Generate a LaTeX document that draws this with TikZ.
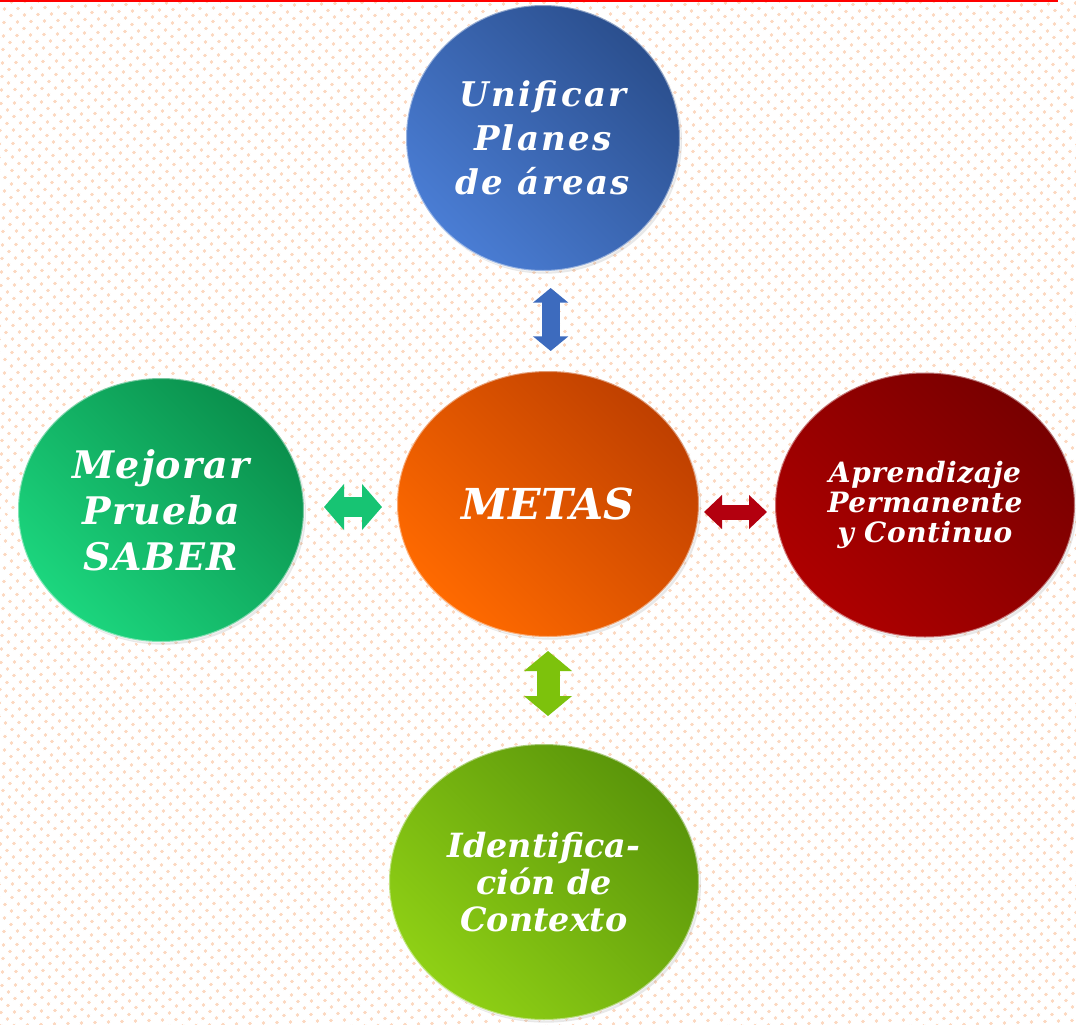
\documentclass[tikz,border=0pt]{standalone}
\usepackage{fontspec}
\setmainfont{DejaVu Serif}
\usetikzlibrary{shapes.geometric,arrows.meta,shadows,patterns.meta}
\definecolor{blueD}{HTML}{2B4F8E}\definecolor{blueL}{HTML}{4A7DD4}
\definecolor{orangeD}{HTML}{BF4000}\definecolor{orangeL}{HTML}{FF6A00}
\definecolor{greenD}{HTML}{0A8F4C}\definecolor{greenL}{HTML}{1CD67E}
\definecolor{redD}{HTML}{780000}\definecolor{redL}{HTML}{AE0000}
\definecolor{limeD}{HTML}{5A950A}\definecolor{limeL}{HTML}{8FD015}
\definecolor{arrBlue}{HTML}{3D6BBE}\definecolor{arrGreen}{HTML}{17C473}
\definecolor{arrRed}{HTML}{B3000F}\definecolor{arrLime}{HTML}{7DC20C}
\definecolor{dotc}{HTML}{FCD8C0}
\tikzset{
  ball/.style n args={4}{ellipse, inner sep=0pt, minimum width=#1, minimum height=#2,
    top color=#3, bottom color=#4, shading angle=-45,
    draw=white, draw opacity=0.45, line width=1.5pt,
    drop shadow={opacity=0.18, shadow xshift=1.5pt, shadow yshift=-2pt},
    text=white, align=center},
  dblarrow/.style n args={4}{line width=#1, draw=#4,
    {Triangle[width=#2,length=#3]}-{Triangle[width=#2,length=#3]}},
}
\newcommand{\bfi}[3]{\bfseries\itshape\fontsize{#1}{#2}\selectfont\addfontfeature{LetterSpace=#3}}
\begin{document}
\begin{tikzpicture}[x=0.75pt,y=-0.75pt]
\useasboundingbox (0,0) rectangle (1076,1025);
\fill[white] (0,0) rectangle (1076,1025);
\fill[pattern={Dots[distance=6.9pt,radius=1.3pt,angle=45]}, pattern color=dotc] (0,0) rectangle (1076,1025);
\draw[red, line width=1.5pt] (0,1) -- (1058,1);

\node[ball={205.5pt}{199.5pt}{blueD}{blueL}, font={\bfi{25.5}{33}{7}}] (top) at (543,138)
  {Unificar\\Planes\\de áreas};
\node[ball={226.5pt}{199.5pt}{orangeD}{orangeL}, font={\bfi{32}{38}{0}}] (metas) at (548,504)
  {METAS};
\node[ball={214.5pt}{198pt}{greenD}{greenL}, font={\bfi{28.5}{34.5}{3}}] (left) at (161,510)
  {Mejorar\\Prueba\\SABER};
\node[ball={225pt}{198.75pt}{redD}{redL}, font={\bfi{21}{22.5}{2}}] (right) at (925,505)
  {Aprendizaje\\Permanente\\y Continuo};
\node[ball={232.5pt}{207pt}{limeD}{limeL}, font={\bfi{25}{27.75}{0}}] (bottom) at (544,882)
  {Identifica-\\ción de\\Contexto};

\draw[dblarrow={13.5pt}{26pt}{11pt}{arrBlue}, shorten <=12pt, shorten >=14.25pt]
  ([xshift=2pt]top.south -| metas.north) -- ([xshift=2pt]metas.north);
\draw[dblarrow={15pt}{33.75pt}{15pt}{arrGreen}, shorten <=10.5pt, shorten >=14.25pt]
  ([yshift=-2.25pt]metas.west) -- ([yshift=-2.25pt]metas.west -| left.east);
\draw[dblarrow={11.25pt}{24.75pt}{13.5pt}{arrRed}, shorten <=3pt, shorten >=5.25pt]
  ([yshift=-6pt]metas.east) -- ([yshift=-6pt]metas.east -| right.west);
\draw[dblarrow={17.25pt}{35.25pt}{15pt}{arrLime}, shorten <=9.75pt, shorten >=20.25pt]
  (metas.south) -- (metas.south |- bottom.north);
\end{tikzpicture}
\end{document}
